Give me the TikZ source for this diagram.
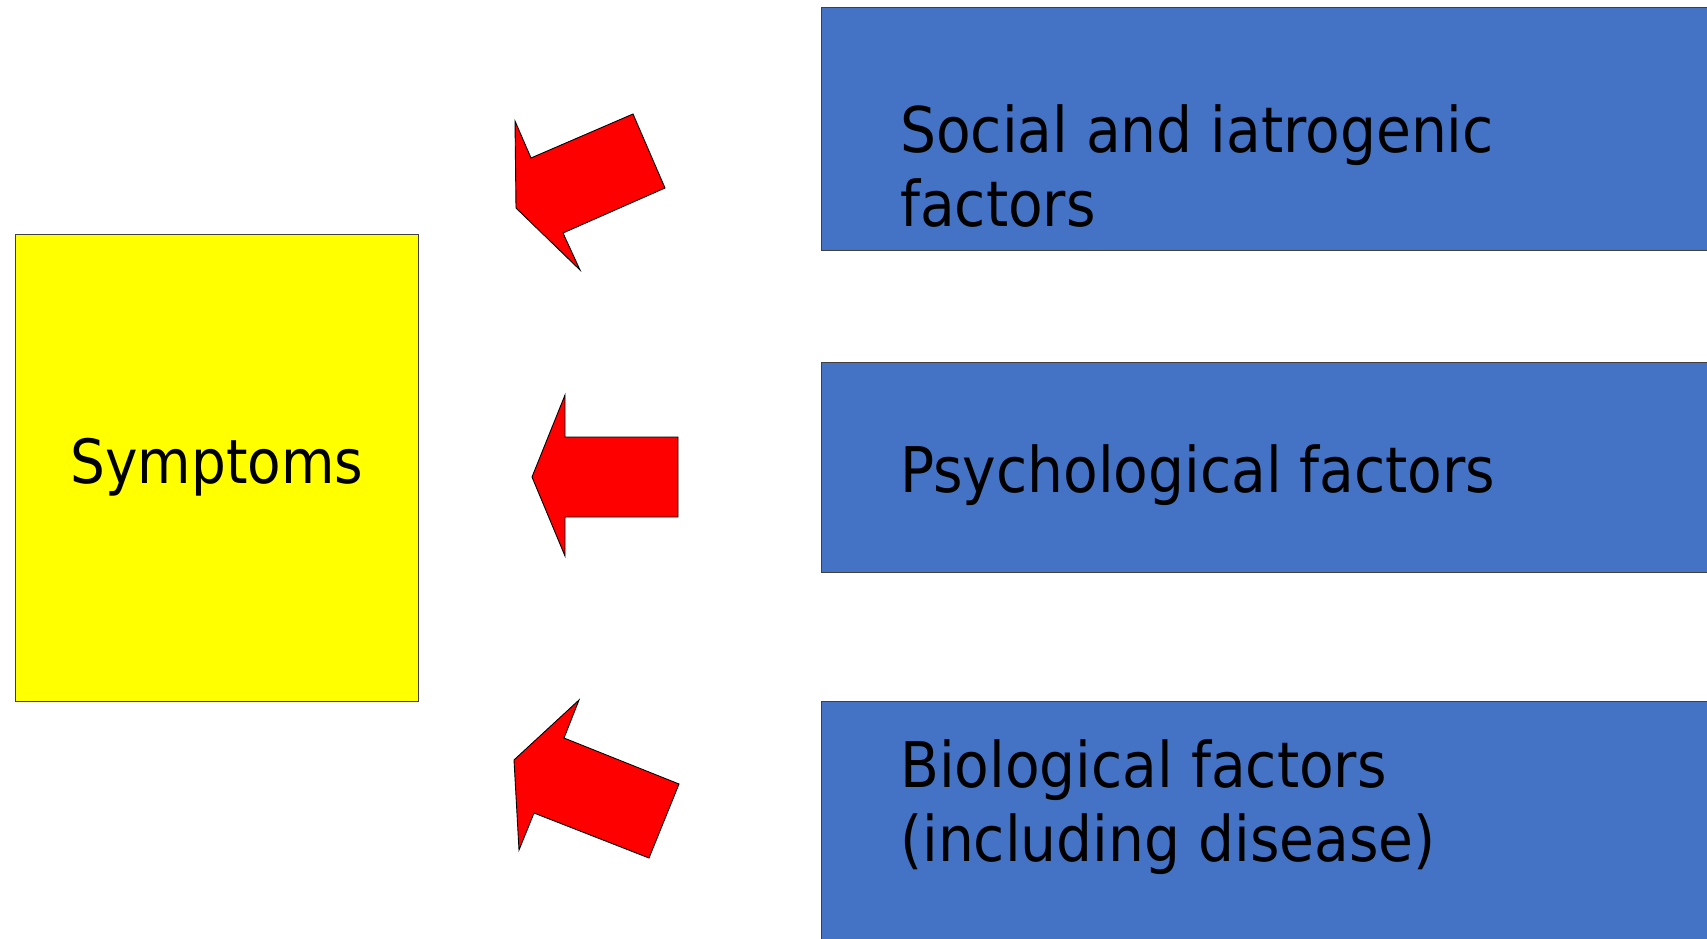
\documentclass[tikz,border=0pt]{standalone}
\usepackage{fontspec}
\setmainfont{DejaVu Sans Condensed}
\usepackage{tikz}

\definecolor{boxblue}{HTML}{4472C4}
\definecolor{boxyellow}{RGB}{255,255,0}
\definecolor{arrowred}{RGB}{255,0,0}

\begin{document}
\begin{tikzpicture}[
    x=1pt,y=-1pt,
    box/.style={draw=black!75, line width=0.8pt},
    factor/.style={anchor=base west, align=left, inner sep=0pt, font=\fontsize{63}{74}\selectfont},
    redarrow/.style={fill=arrowred, draw=black, line width=0.9pt, line join=miter}
    ]
    \useasboundingbox (0,0) rectangle (1707,939);
    \filldraw[box, fill=boxyellow] (15.7,234.3) rectangle (418.7,701);
    \filldraw[box, fill=boxblue] (821,7.6) rectangle (1712,250);
    \filldraw[box, fill=boxblue] (821,362.5) rectangle (1712,572.6);
    \filldraw[box, fill=boxblue] (821,701) rectangle (1712,945);
    \node[font=\fontsize{61}{74}\selectfont] (symptoms) at (217,467.7) {Symptoms};
    % base anchor of a two-line node sits on its last line
    \node[factor] (social) at (900,226.7) {Social and iatrogenic\\factors};
    \node[factor] (psych) at (900,492.7) {Psychological factors};
    \node[factor] (bio) at (900,861.7) {Biological factors\\(including disease)};
    \filldraw[redarrow] (515,121) -- (531,158) -- (633,114) -- (665,188)
        -- (563,233) -- (580,270) -- (516,208) -- cycle;
    \filldraw[redarrow] (565,395) -- (565,437) -- (678,437) -- (678,517)
        -- (565,517) -- (565,556) -- (532,477) -- cycle;
    \filldraw[redarrow] (579,700) -- (564,738) -- (679,784) -- (649,858)
        -- (534,813) -- (519,850) -- (514,760) -- cycle;
\end{tikzpicture}
\end{document}
